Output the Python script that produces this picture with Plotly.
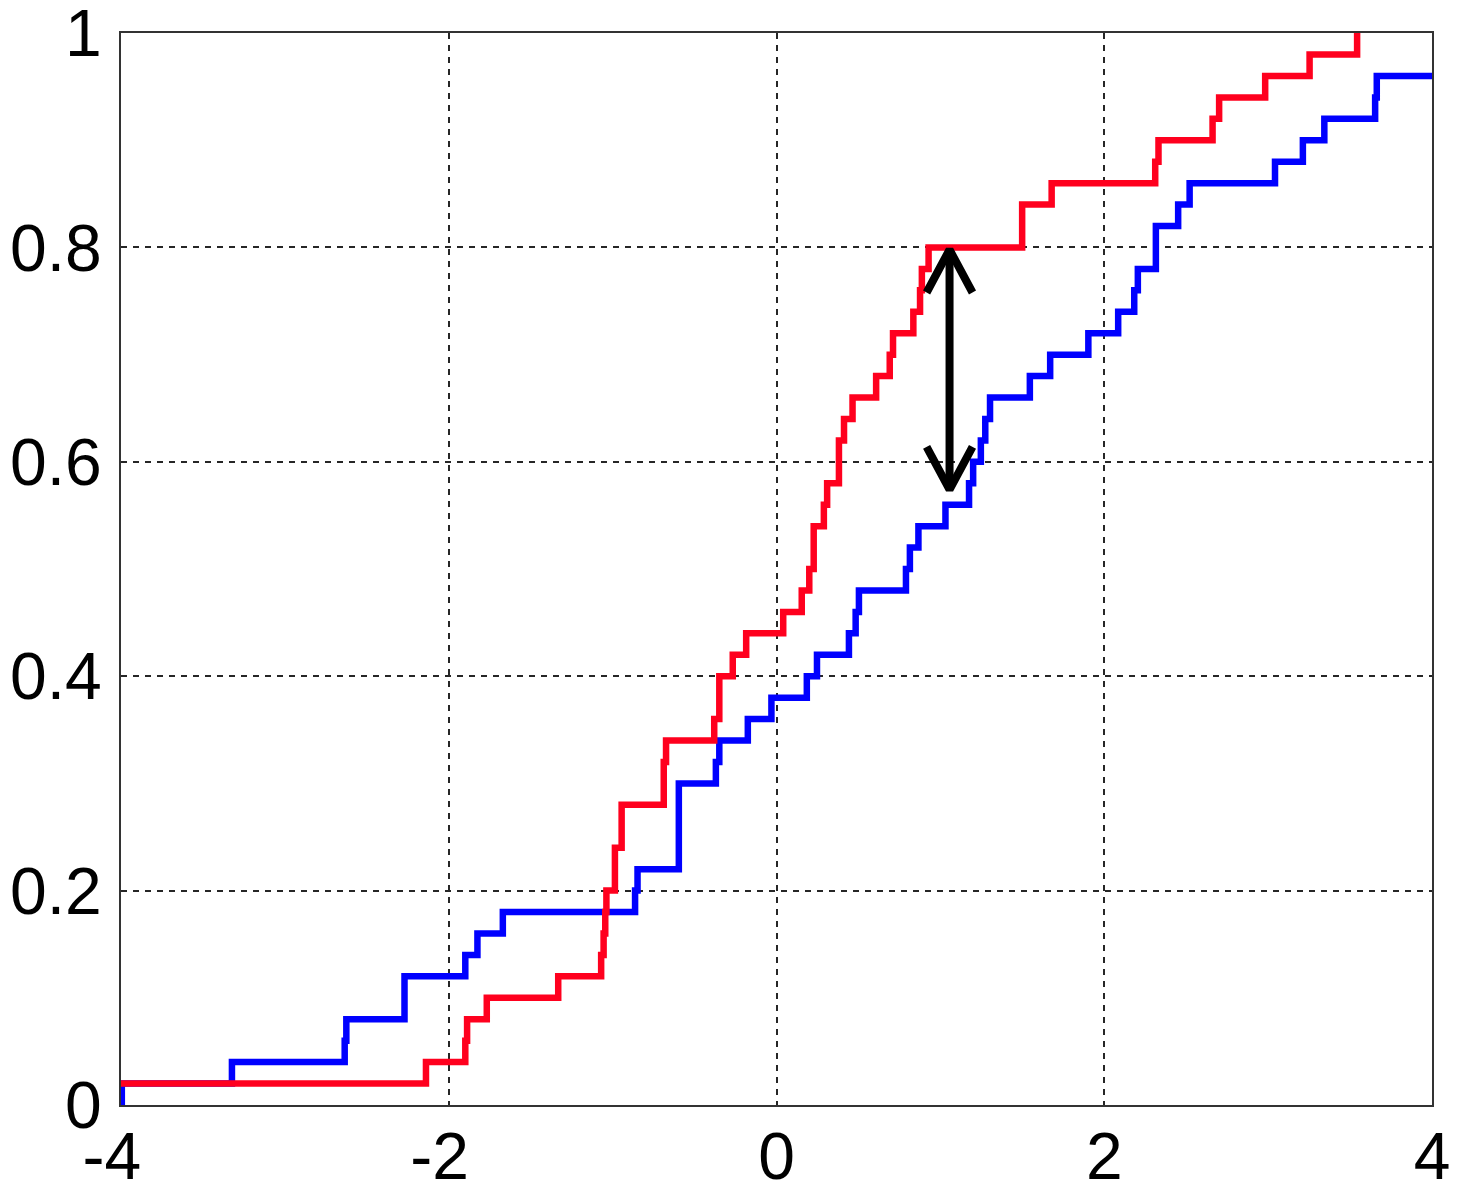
import plotly.graph_objects as go

# ---------------- data ----------------
# Empirical CDF of sample 1 (blue): x positions of the jumps and the level after each jump
blue_jump_x = [-3.995, -3.323, -2.635, -2.625, -2.27, -1.899, -1.825, -1.670,
               -0.863, -0.848, -0.596, -0.370, -0.349, -0.175, -0.031,
               0.185, 0.247, 0.442, 0.483, 0.503, 0.79, 0.814, 0.866,
               1.031, 1.175, 1.200, 1.247, 1.274, 1.303, 1.546, 1.670,
               1.903, 2.085, 2.183, 2.205, 2.315, 2.451, 2.521, 3.042,
               3.212, 3.343, 3.653, 3.663, 4.30, 4.60]
blue_level = [0.02, 0.04, 0.06, 0.08, 0.12, 0.14, 0.16, 0.18,
              0.20, 0.22, 0.30, 0.32, 0.34, 0.36, 0.38,
              0.40, 0.42, 0.44, 0.46, 0.48, 0.50, 0.52, 0.54,
              0.56, 0.58, 0.60, 0.62, 0.64, 0.66, 0.68, 0.70,
              0.72, 0.74, 0.76, 0.78, 0.82, 0.84, 0.86, 0.88,
              0.90, 0.92, 0.94, 0.96, 0.98, 1.00]

# Empirical CDF of sample 2 (red)
red_jump_x = [-4.30, -2.139, -1.899, -1.888, -1.768, -1.332, -1.070, -1.055,
              -1.045, -1.038, -0.986, -0.945, -0.688, -0.674, -0.380, -0.349,
              -0.267, -0.185, 0.041, 0.154, 0.200, 0.227, 0.289, 0.309,
              0.381, 0.412, 0.464, 0.608, 0.691, 0.711, 0.835, 0.876,
              0.887, 0.928, 1.499, 1.679, 2.311, 2.331, 2.661, 2.701,
              2.982, 3.253, 3.543]
red_level = [0.02, 0.04, 0.06, 0.08, 0.10, 0.12, 0.14, 0.16,
             0.18, 0.20, 0.24, 0.28, 0.32, 0.34, 0.36, 0.40,
             0.42, 0.44, 0.46, 0.48, 0.50, 0.54, 0.56, 0.58,
             0.62, 0.64, 0.66, 0.68, 0.70, 0.72, 0.74, 0.76,
             0.78, 0.80, 0.84, 0.86, 0.88, 0.90, 0.92, 0.94,
             0.96, 0.98, 1.00]

# Maximum distance marker (KS statistic)
ks_x = 1.056
ks_low = 0.574
ks_high = 0.798

x_tick_vals = [-4, -2, 0, 2, 4]
x_tick_text = ["-4", "-2", "0", "2", "4"]
y_tick_vals = [0, 0.2, 0.4, 0.6, 0.8, 1]
y_tick_text = ["0", "0.2", "0.4", "0.6", "0.8", "1"]

# ---------------- styles ----------------
BLUE = "rgb(0,0,255)"
RED = "rgb(255,0,30)"
LINE_W = 6.5
ARROW_W = 8
HEAD_HALF_W = 0.14    # x-units
HEAD_H = 0.040        # y-units
FONT = "Liberation Sans, Arial, sans-serif"


def stairs(jx, lv):
    xs = [jx[0]] + list(jx)
    ys = [0.0] + list(lv)
    return xs, ys


fig = go.Figure()

bx, by = stairs(blue_jump_x, blue_level)
fig.add_trace(go.Scatter(x=bx, y=by, mode="lines", line=dict(color=BLUE, width=LINE_W, shape="hv"),
                         showlegend=False, hoverinfo="skip"))
rx, ry = stairs(red_jump_x, red_level)
fig.add_trace(go.Scatter(x=rx, y=ry, mode="lines", line=dict(color=RED, width=LINE_W, shape="hv"),
                         showlegend=False, hoverinfo="skip"))

# double-headed arrow
ax_x = [ks_x, ks_x, None,
        ks_x - HEAD_HALF_W, ks_x, ks_x + HEAD_HALF_W, None,
        ks_x - HEAD_HALF_W, ks_x, ks_x + HEAD_HALF_W]
ax_y = [ks_low, ks_high, None,
        ks_high - HEAD_H, ks_high, ks_high - HEAD_H, None,
        ks_low + HEAD_H, ks_low, ks_low + HEAD_H]
fig.add_trace(go.Scatter(x=ax_x, y=ax_y, mode="lines", line=dict(color="black", width=ARROW_W),
                         showlegend=False, hoverinfo="skip"))

axis_common = dict(
    showgrid=True, gridcolor="#262626", gridwidth=2, griddash="6px,6px",
    zeroline=False, showline=True, linecolor="#333333", linewidth=2, mirror=True,
    ticks="", tickfont=dict(family=FONT, size=66, color="black"), automargin=False,
    ticklabeloverflow="allow",
)

fig.update_xaxes(range=[-4, 4], tickmode="array", tickvals=x_tick_vals,
                 ticktext=[t + ("\u00a0" if t.startswith("-") else "") for t in x_tick_text],
                 ticklabelstandoff=-7, **axis_common)
fig.update_yaxes(range=[0, 1.0001], tickmode="array", tickvals=y_tick_vals, ticktext=y_tick_text,
                 ticklabelstandoff=4, **axis_common)

# the page places the figure 8px from the top-left corner
fig.update_layout(
    width=1452, height=1186,
    margin=dict(l=113, r=28, t=25, b=89),
    paper_bgcolor="white", plot_bgcolor="white",
    font=dict(family=FONT),
)

fig.write_html("out.html")
